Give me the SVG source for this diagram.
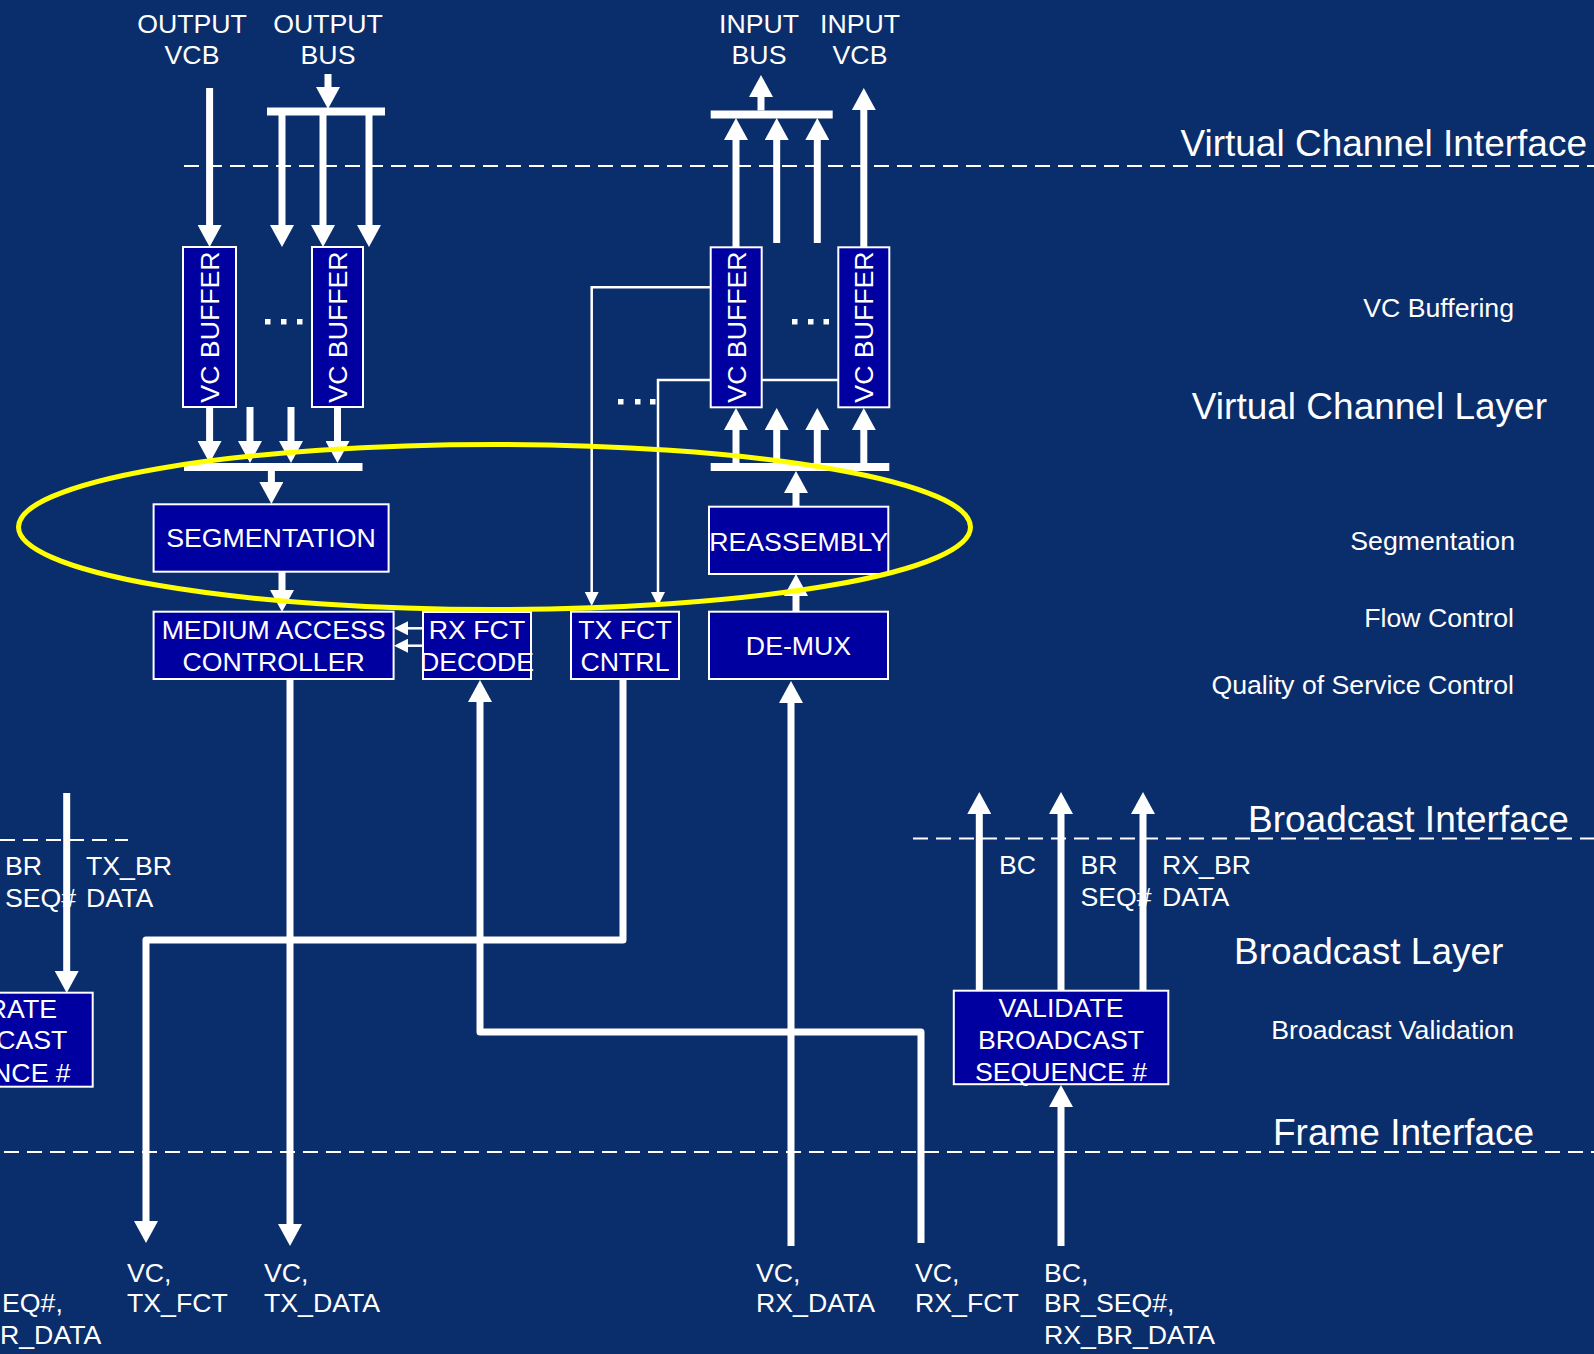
<svg xmlns="http://www.w3.org/2000/svg" width="1594" height="1354" viewBox="0 0 1594 1354">
<defs>
<style>
.t{font-family:"Liberation Sans",Arial,sans-serif;font-size:26.7px;fill:#fff}
.m{text-anchor:middle}
.e{text-anchor:end}
.big{font-size:37px}
.box{fill:#0000A0;stroke:#fff;stroke-width:2}
.w{fill:none;stroke:#fff;stroke-width:7;stroke-linejoin:round}
.bar{fill:none;stroke:#fff;stroke-width:8}
.th{fill:none;stroke:#fff;stroke-width:2.5}
.d{fill:none;stroke:#fff;stroke-width:2;stroke-dasharray:15 8}
.dot{fill:#fff}
</style>
<marker id="ah" markerUnits="userSpaceOnUse" markerWidth="22" markerHeight="24" viewBox="0 0 22 24" refX="0" refY="12" orient="auto">
<path d="M0,0 L22,12 L0,24 z" fill="#fff"/>
</marker>
<marker id="as" markerUnits="userSpaceOnUse" markerWidth="14" markerHeight="14" viewBox="0 0 14 14" refX="0" refY="7" orient="auto">
<path d="M0,0 L14,7 L0,14 z" fill="#fff"/>
</marker>
</defs>
<rect width="1594" height="1354" fill="#0A2D6B"/>

<g id="interfaces">
<path class="d" d="M184,166 H1594"/>
<path class="d" d="M0,840 H128"/>
<path class="d" d="M913,838.5 H1594"/>
<path class="d" d="M4,1152 H1594"/>
</g>

<g id="layer-labels" class="t">
<text class="big e" x="1587" y="156">Virtual Channel Interface</text>
<text class="e" x="1514" y="317">VC Buffering</text>
<text class="big e" x="1547" y="419">Virtual Channel Layer</text>
<text class="e" x="1515" y="550">Segmentation</text>
<text class="e" x="1514" y="627">Flow Control</text>
<text class="e" x="1514" y="694">Quality of Service Control</text>
<text class="big" x="1248" y="832">Broadcast Interface</text>
<text class="big" x="1234" y="964">Broadcast Layer</text>
<text class="e" x="1514" y="1039">Broadcast Validation</text>
<text class="big" x="1273" y="1145">Frame Interface</text>
</g>

<g id="signal-labels" class="t">
<text class="m" x="192" y="33">OUTPUT</text>
<text class="m" x="192" y="64">VCB</text>
<text class="m" x="328" y="33">OUTPUT</text>
<text class="m" x="328" y="64">BUS</text>
<text class="m" x="759" y="33">INPUT</text>
<text class="m" x="759" y="64">BUS</text>
<text class="m" x="860" y="33">INPUT</text>
<text class="m" x="860" y="64">VCB</text>
<text x="5" y="875">BR</text>
<text x="5" y="906.5">SEQ#</text>
<text x="86" y="875">TX_BR</text>
<text x="86" y="906.5">DATA</text>
<text x="999" y="874">BC</text>
<text x="1080.5" y="874">BR</text>
<text x="1080.5" y="906">SEQ#</text>
<text x="1162" y="874">RX_BR</text>
<text x="1162" y="906">DATA</text>
<text x="2" y="1312">EQ#,</text>
<text x="0" y="1344">R_DATA</text>
<text x="127" y="1282">VC,</text>
<text x="127" y="1312">TX_FCT</text>
<text x="264" y="1282">VC,</text>
<text x="264" y="1312">TX_DATA</text>
<text x="756" y="1282">VC,</text>
<text x="756" y="1312">RX_DATA</text>
<text x="915" y="1282">VC,</text>
<text x="915" y="1312">RX_FCT</text>
<text x="1044" y="1282">BC,</text>
<text x="1044" y="1312">BR_SEQ#,</text>
<text x="1044" y="1344">RX_BR_DATA</text>
</g>

<g id="connectors">
<path class="w" d="M209.6,88 V225" marker-end="url(#ah)"/>
<path class="w" d="M328,74 V87" marker-end="url(#ah)"/>
<path class="bar" d="M267,111.5 H385"/>
<path class="w" d="M282,115 V225" marker-end="url(#ah)"/>
<path class="w" d="M323,115 V225" marker-end="url(#ah)"/>
<path class="w" d="M369,115 V225" marker-end="url(#ah)"/>
<path class="w" d="M209.6,407 V441" marker-end="url(#ah)"/>
<path class="w" d="M250,407 V441" marker-end="url(#ah)"/>
<path class="w" d="M291,407 V441" marker-end="url(#ah)"/>
<path class="w" d="M337.5,407 V441" marker-end="url(#ah)"/>
<path class="bar" d="M184,467 H362.5"/>
<path class="w" d="M271.4,471 V482" marker-end="url(#ah)"/>
<path class="w" d="M282,572 V590" marker-end="url(#ah)"/>
<path class="w" d="M290,679 V1224" marker-end="url(#ah)"/>
<path class="w" d="M623,679 V940 H146 V1221" marker-end="url(#ah)"/>
<path class="w" d="M921,1243 V1032 H480 V702" marker-end="url(#ah)"/>
<path class="w" d="M791,1246 V703" marker-end="url(#ah)"/>
<path class="w" d="M796,612 V596" marker-end="url(#ah)"/>
<path class="w" d="M796,507 V493" marker-end="url(#ah)"/>
<path class="bar" d="M710.7,467 H889.3"/>
<path class="w" d="M736,463 V430" marker-end="url(#ah)"/>
<path class="w" d="M776.7,463 V430" marker-end="url(#ah)"/>
<path class="w" d="M817.3,463 V430" marker-end="url(#ah)"/>
<path class="w" d="M863.8,463 V430" marker-end="url(#ah)"/>
<path class="w" d="M736,247 V140" marker-end="url(#ah)"/>
<path class="w" d="M776.7,243 V140" marker-end="url(#ah)"/>
<path class="w" d="M817.3,243 V140" marker-end="url(#ah)"/>
<path class="bar" d="M710.7,114.5 H832.7"/>
<path class="w" d="M761,110.5 V97" marker-end="url(#ah)"/>
<path class="w" d="M863.8,247 V110" marker-end="url(#ah)"/>
<path class="w" d="M66.7,793 V971" marker-end="url(#ah)"/>
<path class="w" d="M979.3,991 V814" marker-end="url(#ah)"/>
<path class="w" d="M1061,991 V814" marker-end="url(#ah)"/>
<path class="w" d="M1143,991 V814" marker-end="url(#ah)"/>
<path class="w" d="M1061,1246 V1107" marker-end="url(#ah)"/>
<path class="th" d="M710.7,287.3 H591.7 V592" marker-end="url(#as)"/>
<path class="th" d="M838.3,380 H658 V592" marker-end="url(#as)"/>
<path class="th" d="M423,628.3 H408" marker-end="url(#as)"/>
<path class="th" d="M423,645.7 H408" marker-end="url(#as)"/>
</g>

<g id="dots">
<rect class="dot" x="265" y="319" width="5.5" height="5.5"/>
<rect class="dot" x="281" y="319" width="5.5" height="5.5"/>
<rect class="dot" x="297" y="319" width="5.5" height="5.5"/>
<rect class="dot" x="792" y="319" width="5.5" height="5.5"/>
<rect class="dot" x="808" y="319" width="5.5" height="5.5"/>
<rect class="dot" x="823.5" y="319" width="5.5" height="5.5"/>
<rect class="dot" x="618" y="399" width="5.5" height="5.5"/>
<rect class="dot" x="635" y="399" width="5.5" height="5.5"/>
<rect class="dot" x="650" y="399" width="5.5" height="5.5"/>
</g>

<g id="vc-buffer-out-1"><rect class="box" x="183" y="247" width="53" height="160"/><text class="t m" transform="translate(219,327) rotate(-90)">VC BUFFER</text></g>
<g id="vc-buffer-out-2"><rect class="box" x="312" y="247" width="51" height="160"/><text class="t m" transform="translate(347,327) rotate(-90)">VC BUFFER</text></g>
<g id="vc-buffer-in-1"><rect class="box" x="710.7" y="247.3" width="51" height="160"/><text class="t m" transform="translate(745.5,327) rotate(-90)">VC BUFFER</text></g>
<g id="vc-buffer-in-2"><rect class="box" x="838.3" y="247.3" width="51" height="160"/><text class="t m" transform="translate(873,327) rotate(-90)">VC BUFFER</text></g>
<g id="segmentation"><rect class="box" x="153.6" y="504.3" width="235" height="67.4"/><text class="t m" x="271" y="547">SEGMENTATION</text></g>
<g id="medium-access-controller"><rect class="box" x="153.6" y="611.7" width="240" height="67.3"/><text class="t m" x="273.6" y="639">MEDIUM ACCESS</text><text class="t m" x="273.6" y="671">CONTROLLER</text></g>
<g id="rx-fct-decode"><rect class="box" x="423" y="612" width="108" height="67"/><text class="t m" x="477" y="639">RX FCT</text><text class="t m" x="477" y="671">DECODE</text></g>
<g id="tx-fct-cntrl"><rect class="box" x="571" y="611.7" width="108" height="67.3"/><text class="t m" x="625" y="638.5">TX FCT</text><text class="t m" x="625" y="671">CNTRL</text></g>
<g id="reassembly"><rect class="box" x="709" y="506.7" width="179.3" height="67.3"/><text class="t m" x="798.7" y="551">REASSEMBLY</text></g>
<g id="de-mux"><rect class="box" x="709" y="611.7" width="179" height="67.3"/><text class="t m" x="798.5" y="655">DE-MUX</text></g>
<g id="validate-broadcast"><rect class="box" x="953.8" y="990.7" width="214.5" height="93.5"/><text class="t m" x="1061" y="1016.5">VALIDATE</text><text class="t m" x="1061" y="1048.5">BROADCAST</text><text class="t m" x="1061" y="1080.5">SEQUENCE #</text></g>
<g id="generate-broadcast"><rect class="box" x="-130" y="992.7" width="222.7" height="94"/><text class="t e" x="57" y="1017.5">RATE</text><text class="t e" x="67.3" y="1049">CAST</text><text class="t e" x="70.7" y="1081.5">NCE #</text></g>

<g id="highlight">
<ellipse cx="494.5" cy="527" rx="476" ry="82.5" fill="none" stroke="#FFFF00" stroke-width="5"/>
</g>
</svg>
